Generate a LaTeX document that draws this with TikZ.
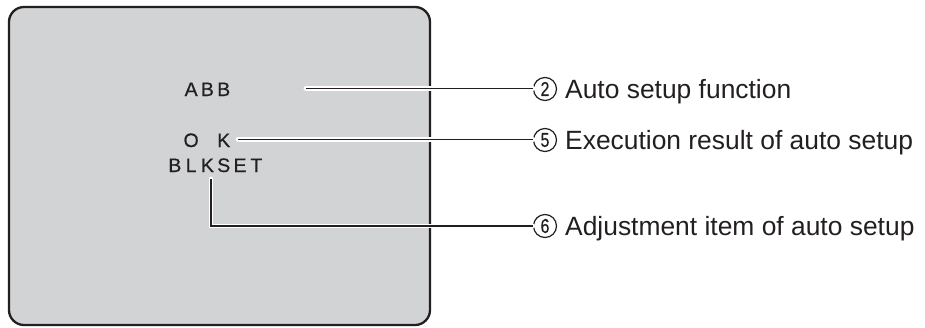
\documentclass[tikz,border=0pt]{standalone}
\usepackage{fontspec}
\setmainfont{Liberation Sans}
\newfontfamily\osdfont[FakeBold=0.6]{Liberation Sans}
\newfontfamily\digfont[FakeBold=0.5]{Liberation Sans}
\usepackage{graphicx}
\definecolor{scrgray}{HTML}{D1D3D4}
\definecolor{ink}{HTML}{231F20}
\newcommand\oc[1]{\makebox[16.3pt][c]{#1}}
\newcommand\cdig[1]{\scalebox{0.8}[1]{#1}}
\begin{document}
\begin{tikzpicture}[x=1pt,y=-1pt,
  screen/.style={draw=ink, line width=2.3pt, fill=scrgray, rounded corners=15pt},
  osd/.style={font=\osdfont\fontsize{19.5}{20}\selectfont, text=ink, inner sep=0pt, anchor=base west},
  leader/.style={line width=1.4pt, draw=ink, preaction={draw=white, line width=4.8pt, line cap=round}},
  num/.style={circle, draw=ink, line width=1.2pt, minimum size=23pt, inner sep=0pt, text=ink, font=\digfont\fontsize{20}{20}\selectfont},
  lbl/.style={font=\fontsize{26.4}{28}\selectfont, text=ink, anchor=base west, inner sep=0pt}]
\useasboundingbox (0,0) rectangle (925,327);
\draw[screen] (9,7) rectangle (430,325);
% OSD text on a character grid
\node[osd] (abb) at (166.5,96) {\oc{}\oc{A}\oc{B}\oc{B}};
\node[osd] (ok) at (166.5,147) {\oc{}\oc{O}\oc{}\oc{K}};
\node[osd] (blk) at (166.5,172) {\oc{B}\oc{L}\oc{K}\oc{S}\oc{E}\oc{T}};
% numbered callouts
\node[num] (c2) at (545,89) {\cdig{2}};
\node[num] (c5) at (545,140) {\cdig{5}};
\node[num] (c6) at (545,226) {\cdig{6}};
\node[lbl] (l2) at (565,98) {Auto setup function};
\node[lbl] (l5) at (565,149) {Execution result of auto setup};
\node[lbl] (l6) at (565,235) {Adjustment item of auto setup};
% leader start points
\coordinate (s2) at (306,88.5);
\coordinate (s5) at (238,139.5);
\coordinate (s6) at (211,179);
\draw[leader] (s2) -- (s2 -| c2.west);
\draw[leader] (s5) -- (s5 -| c5.west);
\draw[leader] (s6) |- (c6.west);
\end{tikzpicture}
\end{document}
